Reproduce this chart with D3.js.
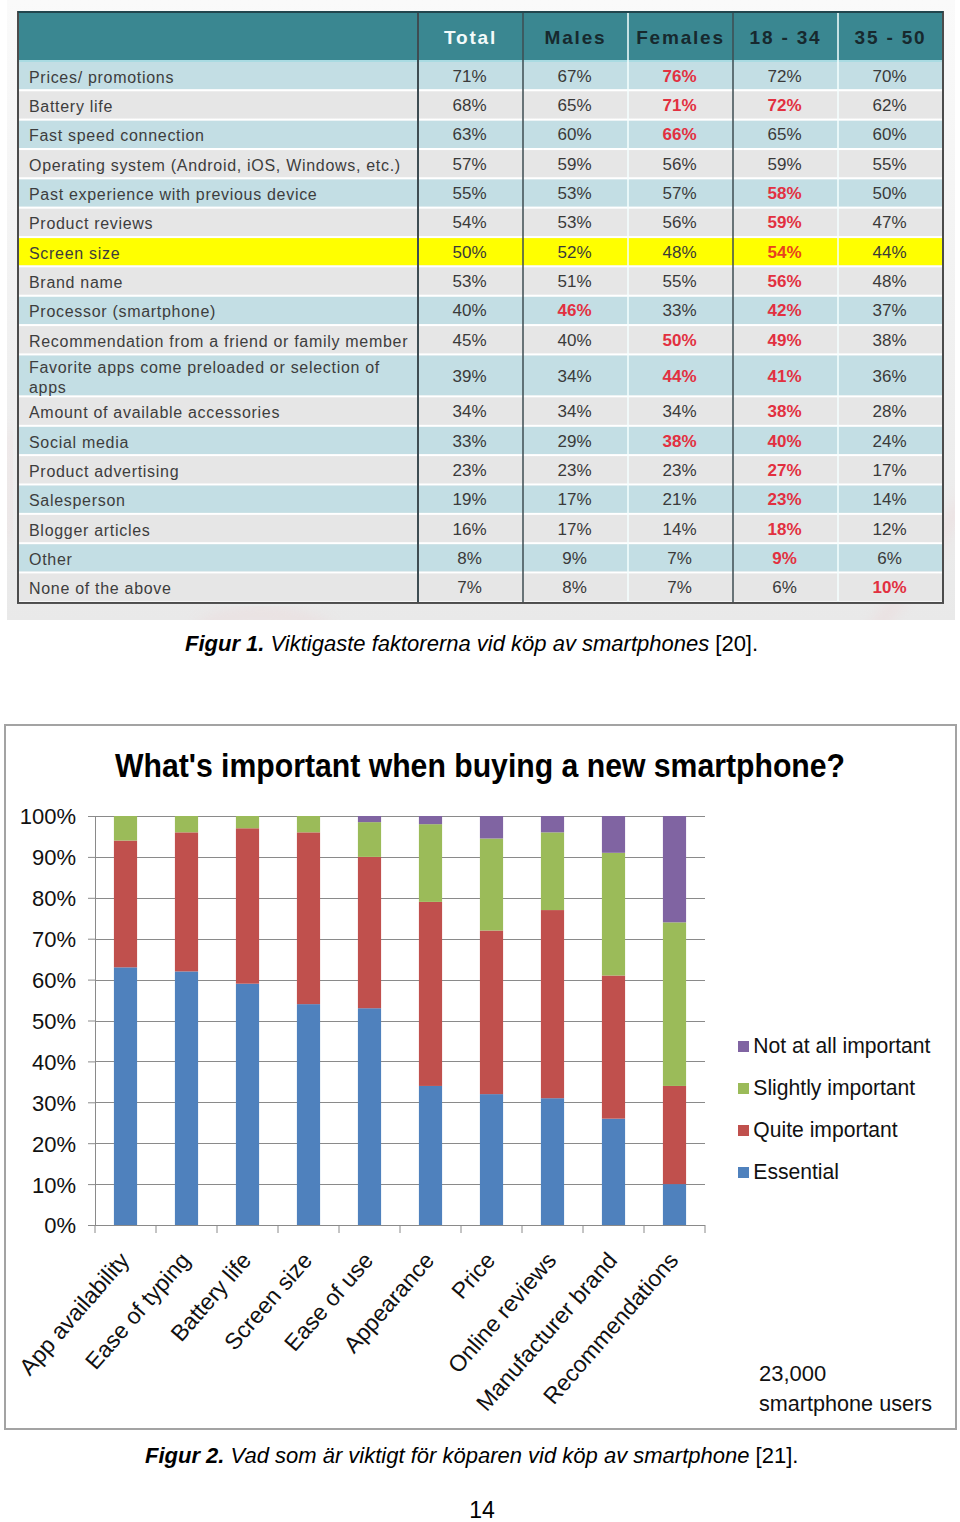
<!DOCTYPE html>
<html><head><meta charset="utf-8">
<script src="https://cdn.jsdelivr.net/npm/d3@7"></script>
<style>body{margin:0;background:#fff}svg{display:block}</style>
</head><body>
<script>
// ---------- Figure 1 data ----------
const tableColumns = ["Total", "Males", "Females", "18 - 34", "35 - 50"];
const factors = [
  "Prices/ promotions", "Battery life", "Fast speed connection",
  "Operating system (Android, iOS, Windows, etc.)", "Past experience with previous device",
  "Product reviews", "Screen size", "Brand name", "Processor (smartphone)",
  "Recommendation from a friend or family member",
  "Favorite apps come preloaded or selection of apps",
  "Amount of available accessories", "Social media", "Product advertising",
  "Salesperson", "Blogger articles", "Other", "None of the above"];
const totalPct   = [71, 68, 63, 57, 55, 54, 50, 53, 40, 45, 39, 34, 33, 23, 19, 16, 8, 7];
const malesPct   = [67, 65, 60, 59, 53, 53, 52, 51, 46, 40, 34, 34, 29, 23, 17, 17, 9, 8];
const femalesPct = [76, 71, 66, 56, 57, 56, 48, 55, 33, 50, 44, 34, 38, 23, 21, 14, 7, 7];
const age1834Pct = [72, 72, 65, 59, 58, 59, 54, 56, 42, 49, 41, 38, 40, 27, 23, 18, 9, 6];
const age3550Pct = [70, 62, 60, 55, 50, 47, 44, 48, 37, 38, 36, 28, 24, 17, 14, 12, 6, 10];
// highlighted (red) cells: [factor index, column index]
const redCells = [[0,2],[1,2],[1,3],[2,2],[4,3],[5,3],[6,3],[7,3],[8,1],[8,3],[9,2],[9,3],
  [10,2],[10,3],[11,3],[12,2],[12,3],[13,3],[14,3],[15,3],[16,3],[17,4]];
const highlightedFactor = "Screen size";
const caption1 = ["Figur 1.", " Viktigaste faktorerna vid köp av smartphones", " [20]."];

// ---------- Figure 2 data ----------
const categories = ["App availability", "Ease of typing", "Battery life", "Screen size", "Ease of use",
  "Appearance", "Price", "Online reviews", "Manufacturer brand", "Recommendations"];
const essential = [63, 62, 59, 54, 53, 34, 32, 31, 26, 10];
const quiteImportant = [31, 34, 38, 42, 37, 45, 40, 46, 35, 24];
const slightlyImportant = [6, 4, 3, 4, 8.5, 19, 22.5, 19, 30, 40];
const notAtAllImportant = [0, 0, 0, 0, 1.5, 2, 5.5, 4, 9, 26];
const seriesNames = ["Essential", "Quite important", "Slightly important", "Not at all important"];
const yTicks = [0, 10, 20, 30, 40, 50, 60, 70, 80, 90, 100];
const chartTitle = "What's important when buying a new smartphone?";
const noteLines = ["23,000", "smartphone users"];
const caption2 = ["Figur 2.", " Vad som är viktigt för köparen vid köp av smartphone", " [21]."];
const pageNumber = "14";

// ---------- drawing ----------
const W = 960, H = 1522;
const svg = d3.select("body").append("svg").attr("width", W).attr("height", H)
  .style("font-family", "'Liberation Sans', Arial, sans-serif");
const defs = svg.append("defs");

// ===== Figure 1 : table =====
const bg = defs.append("linearGradient").attr("id", "bg1").attr("x1", 0).attr("y1", 0).attr("x2", 0).attr("y2", 1);
bg.append("stop").attr("offset", "0%").attr("stop-color", "#fafafa");
bg.append("stop").attr("offset", "100%").attr("stop-color", "#e9e9e9");
defs.append("filter").attr("id", "blur").attr("x", "-50%").attr("y", "-50%").attr("width", "200%").attr("height", "200%")
  .append("feGaussianBlur").attr("stdDeviation", 8);
defs.append("clipPath").attr("id", "imgclip").append("rect").attr("x", 7).attr("y", 0).attr("width", 948).attr("height", 620);

const f1 = svg.append("g");
f1.append("rect").attr("x", 7).attr("y", 0).attr("width", 948).attr("height", 620).attr("fill", "url(#bg1)");
const swoosh = f1.append("g").attr("clip-path", "url(#imgclip)");
swoosh.append("path").attr("d", "M200,628 Q260,600 330,630").attr("stroke", "#f0c4c7").attr("stroke-width", 10)
  .attr("fill", "none").attr("filter", "url(#blur)").attr("opacity", 0.35);
swoosh.append("path").attr("d", "M870,640 Q915,570 965,500").attr("stroke", "#f0c4c7").attr("stroke-width", 12)
  .attr("fill", "none").attr("filter", "url(#blur)").attr("opacity", 0.3);
swoosh.append("path").attr("d", "M8,430 Q14,480 8,540").attr("stroke", "#f0c8cb").attr("stroke-width", 8)
  .attr("fill", "none").attr("filter", "url(#blur)").attr("opacity", 0.3);

const tLeft = 18, tRight = 943, tTop = 12, headerH = 50, labelColRight = 418;
const colX = d3.scaleBand().domain(tableColumns).range([labelColRight, tRight]);
const columnsData = [totalPct, malesPct, femalesPct, age1834Pct, age3550Pct];
const isRed = (r, c) => redCells.some(p => p[0] === r && p[1] === c);

// measure label wrapping
const labelSpacing = 0.7;
const measure = f1.append("text").attr("font-size", 16).attr("letter-spacing", labelSpacing).attr("visibility", "hidden");
function wrap(label, maxW) {
  const words = label.split(" "); const lines = []; let cur = "";
  words.forEach(w => {
    const t = cur ? cur + " " + w : w;
    measure.text(t);
    if (measure.node().getComputedTextLength() > maxW && cur) { lines.push(cur); cur = w; } else cur = t;
  });
  lines.push(cur); return lines;
}
const lineRowH = 29.35, twoLineRowH = 42;
let yy = tTop + headerH;
const rows = factors.map((f, i) => {
  const lines = wrap(f, 384);
  const h = lines.length > 1 ? twoLineRowH : lineRowH;
  const r = { i, label: f, lines, y: yy, h };
  yy += h; return r;
});
measure.remove();
const tBottom = yy;

// header
f1.append("rect").attr("x", tLeft).attr("y", tTop).attr("width", tRight - tLeft).attr("height", headerH).attr("fill", "#3a8791");
f1.append("rect").attr("x", tLeft).attr("y", tTop + headerH - 2).attr("width", tRight - tLeft).attr("height", 2).attr("fill", "#a9dbe2");
f1.selectAll(".hdr").data(tableColumns).join("text")
  .attr("x", d => colX(d) + colX.bandwidth() / 2).attr("y", tTop + 32)
  .attr("text-anchor", "middle").attr("font-size", 19).attr("font-weight", "bold").attr("letter-spacing", 1.8)
  .attr("fill", (d, i) => i === 0 ? "#f2fafa" : "#17292e").text(d => d);

// rows
const rowG = f1.selectAll(".row").data(rows).join("g");
rowG.append("rect").attr("x", tLeft).attr("y", d => d.y).attr("width", tRight - tLeft).attr("height", d => d.h - 2)
  .attr("fill", d => d.label === highlightedFactor ? "#ffff00" : (d.i % 2 === 0 ? "#c3dee4" : "#e6e6e6"));
rowG.append("rect").attr("x", tLeft).attr("y", d => d.y + d.h - 2).attr("width", tRight - tLeft).attr("height", 2).attr("fill", "#ffffff");
rowG.each(function (d) {
  const g = d3.select(this);
  const n = d.lines.length;
  d.lines.forEach((ln, k) => {
    g.append("text").attr("x", 29).attr("y", d.y + d.h / 2 + 6 - (n - 1) * 10 + k * 20)
      .attr("font-size", 16).attr("letter-spacing", labelSpacing).attr("fill", "#3d3d3d").text(ln);
  });
  columnsData.forEach((arr, c) => {
    const red = isRed(d.i, c);
    g.append("text").attr("x", colX(tableColumns[c]) + colX.bandwidth() / 2 - 1).attr("y", d.y + d.h / 2 + 5)
      .attr("text-anchor", "middle").attr("font-size", 17)
      .attr("font-weight", red ? "bold" : "normal")
      .attr("fill", red ? (d.label === highlightedFactor ? "#e8421e" : "#e23040") : "#3a3a3a")
      .text(arr[d.i] + "%");
  });
});

// column dividers
const divs = [{ x: labelColRight, c: "#3e4c52", w: 2 }, { x: colX("Males"), c: "#3e4c52", w: 1.5 },
  { x: colX("Females"), c: "#f4ffff", w: 1.5 }, { x: colX("18 - 34"), c: "#3e4c52", w: 1.5 }, { x: colX("35 - 50"), c: "#f4ffff", w: 1.5 }];
f1.selectAll(".div").data(divs).join("line").attr("x1", d => d.x).attr("x2", d => d.x)
  .attr("y1", tTop).attr("y2", tBottom).attr("stroke", d => d.c).attr("stroke-width", d => d.w);
f1.append("rect").attr("x", tLeft).attr("y", tTop).attr("width", tRight - tLeft).attr("height", tBottom - tTop)
  .attr("fill", "none").attr("stroke", "#4c4c4c").attr("stroke-width", 2);
f1.append("line").attr("x1", tLeft).attr("x2", tRight).attr("y1", tTop).attr("y2", tTop).attr("stroke", "#22454d").attr("stroke-width", 2);

function caption(parts, x, y) {
  const t = svg.append("text").attr("x", x).attr("y", y).attr("font-size", 22).attr("fill", "#000");
  t.append("tspan").attr("font-weight", "bold").attr("font-style", "italic").text(parts[0]);
  t.append("tspan").attr("font-style", "italic").text(parts[1]);
  t.append("tspan").text(parts[2]);
}
caption(caption1, 185, 651);

// ===== Figure 2 : stacked bars =====
svg.append("rect").attr("x", 5).attr("y", 725).attr("width", 951).attr("height", 704)
  .attr("fill", "#fff").attr("stroke", "#a3a3a3").attr("stroke-width", 2);
svg.append("text").attr("x", 115).attr("y", 777).attr("font-size", 33).attr("font-weight", "bold")
  .attr("textLength", 730).attr("lengthAdjust", "spacingAndGlyphs").attr("fill", "#000").text(chartTitle);

const plot = { left: 95, right: 705, top: 816, bottom: 1225 };
const x = d3.scaleBand().domain(categories).range([plot.left, plot.right]).paddingInner(0.62).paddingOuter(0.31);
const y = d3.scaleLinear().domain([0, 100]).range([plot.bottom, plot.top]);
const colors = d3.scaleOrdinal().domain(seriesNames).range(["#4f81bd", "#c0504d", "#9bbb59", "#8064a2"]);

const table = categories.map((c, i) => ({ category: c, "Essential": essential[i], "Quite important": quiteImportant[i],
  "Slightly important": slightlyImportant[i], "Not at all important": notAtAllImportant[i] }));
const stacked = d3.stack().keys(seriesNames)(table);

// gridlines
const grid = svg.append("g");
grid.selectAll("line").data(yTicks).join("line")
  .attr("x1", plot.left).attr("x2", plot.right).attr("y1", d => Math.round(y(d)) + 0.5).attr("y2", d => Math.round(y(d)) + 0.5)
  .attr("stroke", "#8a8a8a").attr("stroke-width", 1);

// y axis
const yAxis = svg.append("g").attr("transform", `translate(${plot.left},0)`)
  .call(d3.axisLeft(y).tickValues(yTicks).tickFormat(d => d + "%").tickSize(7).tickPadding(12));
yAxis.select(".domain").attr("stroke", "#8a8a8a");
yAxis.selectAll(".tick line").attr("stroke", "#8a8a8a");
yAxis.selectAll("text").attr("font-size", 22).attr("fill", "#111").attr("font-family", "'Liberation Sans', Arial, sans-serif")
  .attr("dy", "0.36em");

// bars
svg.append("g").selectAll("g").data(stacked).join("g").attr("fill", d => colors(d.key))
  .selectAll("rect").data(d => d).join("rect")
  .attr("x", d => x(d.data.category)).attr("width", x.bandwidth())
  .attr("y", d => y(d[1])).attr("height", d => y(d[0]) - y(d[1]));

// x axis with ticks at category boundaries
const step = x.step();
const boundaries = categories.map(c => x(c) - step * x.paddingInner() / 2).concat([plot.right]);
const xAxis = svg.append("g");
xAxis.append("line").attr("x1", plot.left).attr("x2", plot.right).attr("y1", plot.bottom + 0.5).attr("y2", plot.bottom + 0.5).attr("stroke", "#8a8a8a");
xAxis.selectAll(".tk").data(boundaries).join("line").attr("x1", d => d).attr("x2", d => d)
  .attr("y1", plot.bottom).attr("y2", plot.bottom + 8).attr("stroke", "#8a8a8a");
xAxis.selectAll(".lbl").data(categories).join("text")
  .attr("transform", d => `translate(${x(d) + x.bandwidth() / 2 + 5},${plot.bottom + 36}) rotate(-49)`)
  .attr("text-anchor", "end").attr("font-size", 23).attr("fill", "#111").text(d => d);

// legend
const legend = svg.append("g").selectAll("g").data(seriesNames.slice().reverse()).join("g")
  .attr("transform", (d, i) => `translate(738,${1053 + i * 42})`);
legend.append("rect").attr("x", 0).attr("y", -12).attr("width", 11).attr("height", 11).attr("fill", d => colors(d));
legend.append("text").attr("x", 16).attr("y", 0).attr("font-size", 22).attr("fill", "#111")
  .attr("transform", "scale(0.96,1)").text(d => d);

// note
svg.append("g").selectAll("text").data(noteLines).join("text")
  .attr("x", 759).attr("y", (d, i) => 1381 + i * 30).attr("font-size", 22).attr("fill", "#111")
  .attr("textLength", (d, i) => i === 1 ? 173 : null).attr("lengthAdjust", "spacingAndGlyphs").text(d => d);

caption(caption2, 145, 1463);
svg.append("text").attr("x", 482).attr("y", 1518).attr("text-anchor", "middle").attr("font-size", 23).attr("fill", "#000").text(pageNumber);
</script>
</body></html>
